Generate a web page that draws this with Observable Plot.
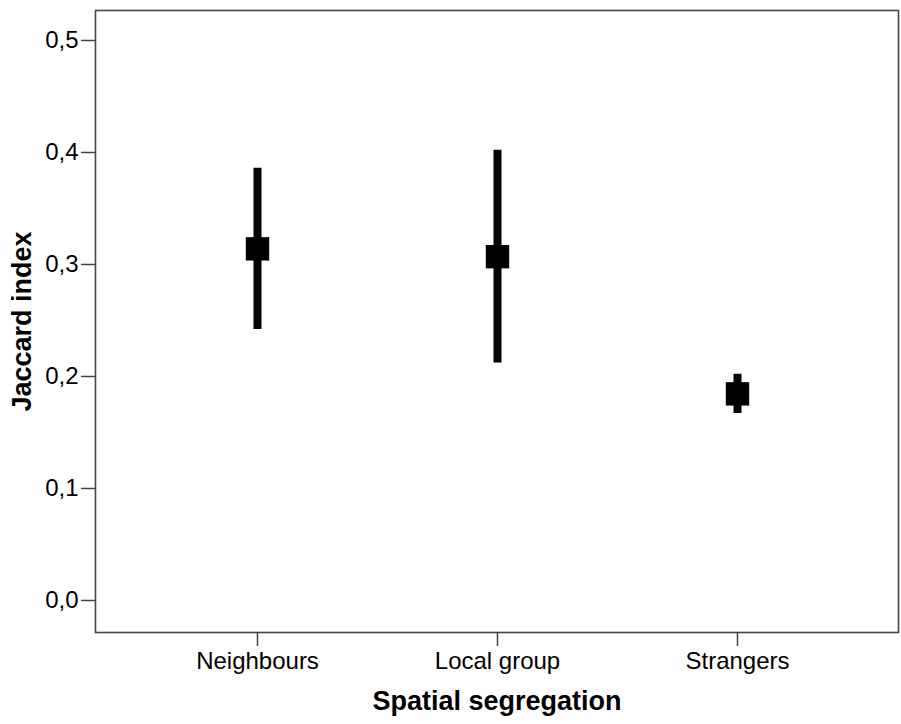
<!DOCTYPE html>
<html>
<head>
<meta charset="utf-8">
<script src="https://cdn.jsdelivr.net/npm/d3@7"></script>
<script src="https://cdn.jsdelivr.net/npm/@observablehq/plot@0.6"></script>
<style>
  html, body { margin: 0; padding: 0; background: #fff; }
  #chart svg { display: block; font-family: "Liberation Sans", Arial, sans-serif; }
</style>
</head>
<body>
<div id="chart"></div>
<script>
const categories = ["Neighbours", "Local group", "Strangers"];
const means = [0.314, 0.307, 0.1845];
const lower = [0.242, 0.212, 0.167];
const upper = [0.386, 0.402, 0.202];
const yTicks = [0, 0.1, 0.2, 0.3, 0.4, 0.5];
const xTitle = "Spatial segregation";
const yTitle = "Jaccard index";

const data = categories.map((c, i) => ({ cat: c, mean: means[i], lo: lower[i], hi: upper[i] }));

const chart = Plot.plot({
  width: 901,
  height: 724,
  marginLeft: 95,
  marginRight: 3,
  marginTop: 10,
  marginBottom: 92,
  style: { fontFamily: "'Liberation Sans', Arial, sans-serif", background: "#fff", color: "#000" },
  x: { type: "point", domain: categories, padding: 0.67 },
  y: { domain: [-0.02857, 0.52679] },
  marks: [
    Plot.frame({ stroke: "#444", strokeWidth: 1.6 }),
    Plot.axisY({
      ticks: yTicks,
      tickFormat: d => d.toFixed(1).replace(".", ","),
      tickSize: 14,
      tickPadding: 3,
      fontSize: 24,
      stroke: "#444",
      strokeWidth: 1.5,
      fill: "#000",
      label: null
    }),
    Plot.axisX({
      tickSize: 14,
      tickPadding: 5,
      fontSize: 24,
      stroke: "#444",
      strokeWidth: 1.5,
      fill: "#000",
      label: null
    }),
    Plot.ruleX(data, { x: "cat", y1: "lo", y2: "hi", stroke: "#000", strokeWidth: 8 }),
    Plot.dot(data, { x: "cat", y: "mean", symbol: "square", r: 13.2, fill: "#000", stroke: "none" }),
    Plot.text([yTitle], { frameAnchor: "left", textAnchor: "middle", dx: -73, rotate: -90, fontWeight: "bold", fontSize: 27, fill: "#000" }),
    Plot.text([xTitle], { frameAnchor: "bottom", textAnchor: "middle", dy: 77, fontWeight: "bold", fontSize: 27, fill: "#000" })
  ]
});
document.getElementById("chart").appendChild(chart);
</script>
</body>
</html>
